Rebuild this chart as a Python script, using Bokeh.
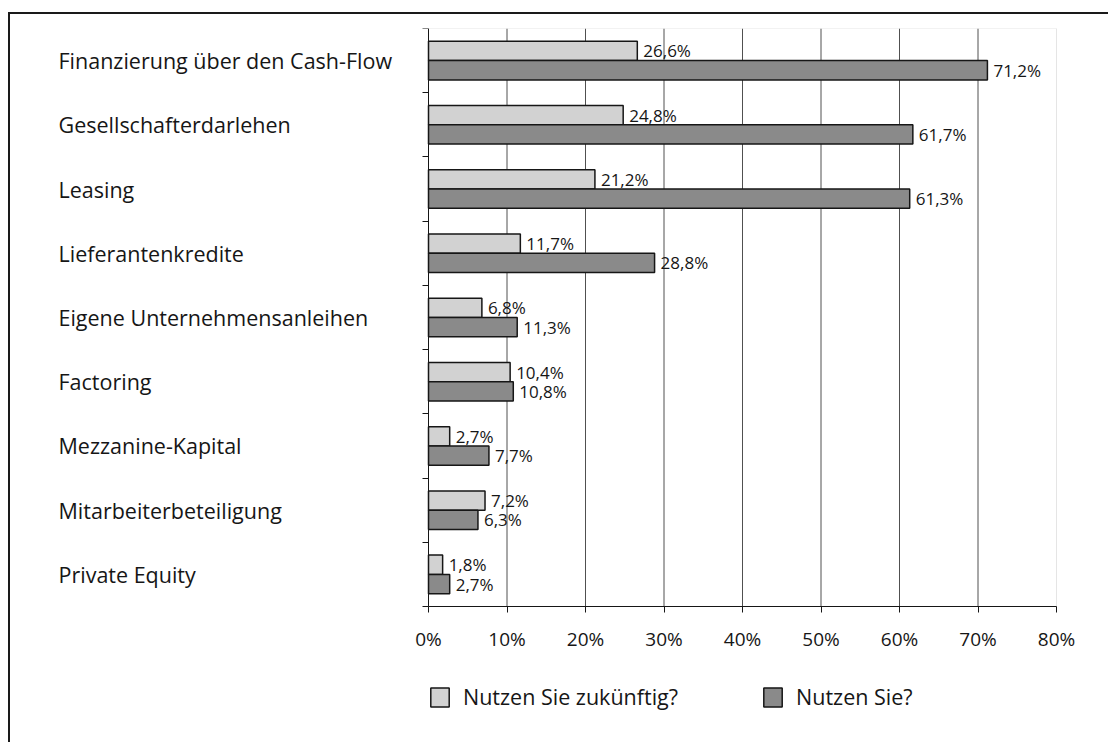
from bokeh.plotting import figure
from bokeh.models import (ColumnDataSource, Range1d, FixedTicker, Legend, LegendItem,
                          BoxAnnotation)
from bokeh.core.properties import value
from bokeh.embed import file_html
from bokeh.resources import INLINE

categories = [
    "Finanzierung über den Cash-Flow",
    "Gesellschafterdarlehen",
    "Leasing",
    "Lieferantenkredite",
    "Eigene Unternehmensanleihen",
    "Factoring",
    "Mezzanine-Kapital",
    "Mitarbeiterbeteiligung",
    "Private Equity",
]
future_values = [26.6, 24.8, 21.2, 11.7, 6.8, 10.4, 2.7, 7.2, 1.8]
current_values = [71.2, 61.7, 61.3, 28.8, 11.3, 10.8, 7.7, 6.3, 2.7]
series_names = ["Nutzen Sie zukünftig?", "Nutzen Sie?"]
x_ticks = [0, 10, 20, 30, 40, 50, 60, 70, 80]
x_tick_labels = ["0%", "10%", "20%", "30%", "40%", "50%", "60%", "70%", "80%"]

FONT = "Open Sans"
LIGHT = "#d2d2d2"
DARK = "#8a8a8a"
INK = "#161616"

n = len(categories)
x_max = x_ticks[-1]
centers = [n - i - 0.5 for i in range(n)]
off = 0.15
bar_h = 0.30

def fmt(v):
    return f"{v:.1f}".replace(".", ",") + "%"

# ---- layout (page pixels) ----
W, H = 1100, 730
MB_L, MB_R, MB_T, MB_B = 30, 10, 14, 20
ORIGIN_X, ORIGIN_Y = 10, 14          # canvas origin on the page (margin + border)
PLOT_L, PLOT_R = 428, 1056            # page x of 0% and 80%
PLOT_T, PLOT_B = 28, 606              # page y of top/bottom of category area
frame_l = ORIGIN_X + MB_L
frame_r = ORIGIN_X + W - MB_R
frame_t = ORIGIN_Y + MB_T
frame_b = ORIGIN_Y + H - MB_B
ppx = (PLOT_R - PLOT_L) / x_max
ppy = (PLOT_B - PLOT_T) / n
x_range = Range1d((frame_l - PLOT_L) / ppx, x_max + (frame_r - PLOT_R) / ppx)
y_range = Range1d(-(frame_b - PLOT_B) / ppy, n + (PLOT_T - frame_t) / ppy)

src_f = ColumnDataSource(dict(y=[c + off for c in centers], x=future_values,
                              lab=[fmt(v) for v in future_values]))
src_c = ColumnDataSource(dict(y=[c - off for c in centers], x=current_values,
                              lab=[fmt(v) for v in current_values]))
src_cat = ColumnDataSource(dict(y=centers, x=[0] * n, cat=categories))
src_tick = ColumnDataSource(dict(x=x_ticks, y=[0] * len(x_ticks), lab=x_tick_labels))
inner = [t for t in x_ticks if 0 < t < x_max]
src_grid = ColumnDataSource(dict(x=inner, y0=[0] * len(inner), y1=[n] * len(inner)))

p = figure(width=W, height=H, output_backend="svg", toolbar_location=None,
           x_range=x_range, y_range=y_range,
           min_border_left=MB_L, min_border_right=MB_R, min_border_top=MB_T,
           min_border_bottom=MB_B)
p.styles = {"border-left": "2px solid #1a1a1a", "border-top": "2px solid #1a1a1a",
            "margin-left": "8px", "margin-top": "12px"}
p.background_fill_color = "white"
p.border_fill_color = "white"
p.outline_line_color = None
p.grid.visible = False

# plot-area outline (light grey) and vertical grid lines
p.add_layout(BoxAnnotation(left=0, right=x_max, bottom=0, top=n, fill_alpha=0,
                           line_color="#a8a8a8", line_width=1, level="underlay"))
p.segment(x0="x", y0="y0", x1="x", y1="y1", source=src_grid,
          line_color="#505050", line_width=1, level="underlay")

rf = p.hbar(y="y", right="x", left=0, height=bar_h, source=src_f,
            fill_color=LIGHT, line_color=INK, line_width=1.5)
rc = p.hbar(y="y", right="x", left=0, height=bar_h, source=src_c,
            fill_color=DARK, line_color=INK, line_width=1.5)

for s in (src_f, src_c):
    p.text(x="x", y="y", text="lab", source=s, x_offset=6,
           text_align="left", text_baseline="middle",
           text_font=value(FONT), text_font_size="17px", text_color=INK)

# category labels (left aligned)
p.text(x="x", y="y", text="cat", source=src_cat, x_offset=58 - PLOT_L,
       text_align="left", text_baseline="middle",
       text_font=value(FONT), text_font_size="21.5px", text_color=INK)

# x tick labels
p.text(x="x", y="y", text="lab", source=src_tick, y_offset=32,
       text_align="center", text_baseline="middle",
       text_font=value(FONT), text_font_size="19px", text_color=INK)

# axes at data origin
xa = p.xaxis[0]
xa.fixed_location = 0
xa.bounds = (0, x_max)
xa.ticker = FixedTicker(ticks=x_ticks)
xa.major_label_overrides = {t: "" for t in x_ticks}
xa.major_label_text_font_size = "2px"
xa.major_label_standoff = 0
xa.minor_tick_line_color = None
xa.major_tick_out = 6
xa.major_tick_in = 0
xa.axis_line_color = INK
xa.major_tick_line_color = INK

ya = p.yaxis[0]
ya.fixed_location = 0
ya.bounds = (0, n)
ya.ticker = FixedTicker(ticks=list(range(n + 1)))
ya.major_label_overrides = {t: "" for t in range(n + 1)}
ya.major_label_text_font_size = "2px"
ya.major_label_standoff = 0
ya.minor_tick_line_color = None
ya.major_tick_out = 6
ya.major_tick_in = 0
ya.axis_line_color = INK
ya.major_tick_line_color = INK

lg = Legend(items=[LegendItem(label=series_names[0], renderers=[rf]),
                   LegendItem(label=series_names[1], renderers=[rc])],
            location=(428 - frame_l, frame_b - 711), orientation="horizontal",
            padding=0, margin=0, spacing=83,
            glyph_width=23, glyph_height=24, label_standoff=12,
            label_text_font=FONT, label_text_font_size="21.5px", label_text_color=INK,
            border_line_alpha=0, background_fill_alpha=0)
p.add_layout(lg)

open("out.html", "w").write(file_html(p, INLINE))
